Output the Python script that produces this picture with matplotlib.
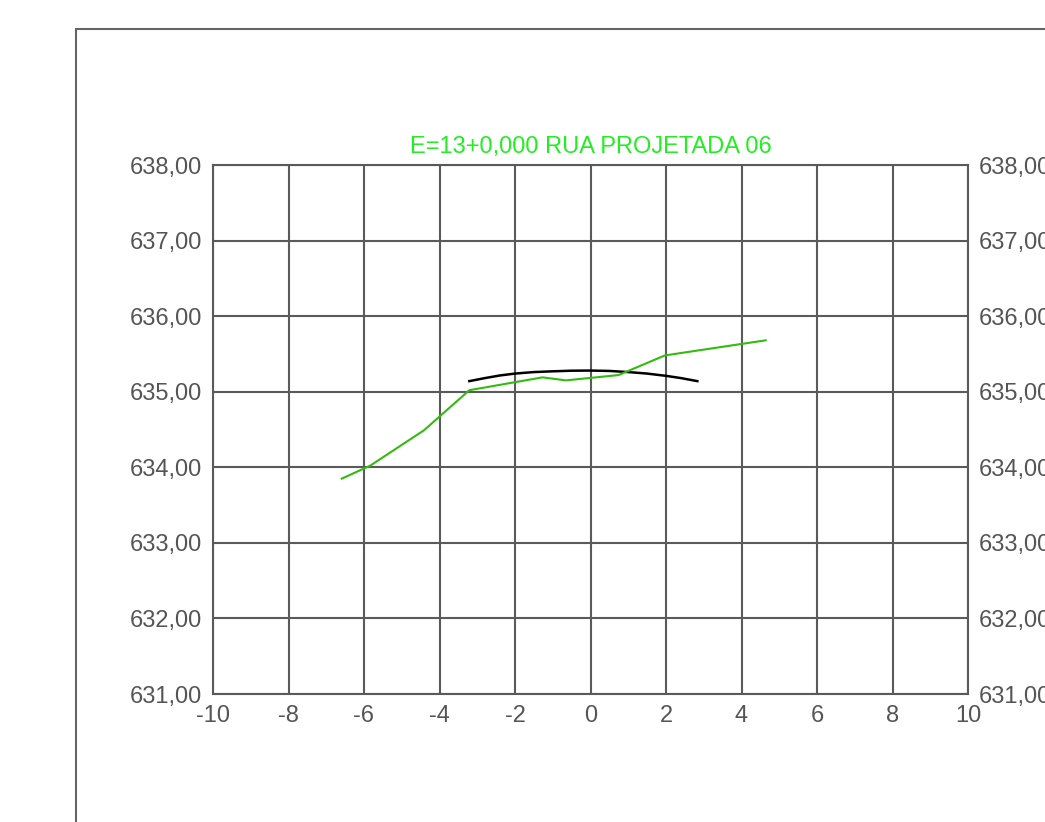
import matplotlib.pyplot as plt
from matplotlib.patches import Rectangle

plt.rcParams['font.family'] = ['Liberation Sans', 'DejaVu Sans']

title = "E=13+0,000 RUA PROJETADA 06"

# terreno (green)
terrain_x = [-6.59, -5.84, -4.41, -3.21, -1.27, -0.65, 0.74, 1.97, 4.64]
terrain_y = [633.85, 634.02, 634.49, 635.02, 635.19, 635.15, 635.22, 635.48, 635.68]

# projeto (black)
road_x = [-3.21, -2.8, -2.4, -2.0, -1.5, -1.0, -0.5, 0.0, 0.5, 1.0, 1.5, 2.0, 2.4, 2.83]
road_y = [635.14, 635.18, 635.215, 635.24, 635.26, 635.27, 635.278, 635.28,
          635.275, 635.26, 635.24, 635.21, 635.18, 635.14]

x_ticks = list(range(-10, 11, 2))
y_ticks = [631, 632, 633, 634, 635, 636, 637, 638]

W, H = 1045, 822
fig = plt.figure(figsize=(W / 100, H / 100), dpi=100)

# outer frame
fig.patches.append(Rectangle((76 / W, -0.1), 1.0, 1 - 29 / H + 0.1,
                             transform=fig.transFigure, fill=False,
                             edgecolor='#666666', linewidth=1.5))

ax = fig.add_axes([213 / W, 1 - 694 / H, (968 - 213) / W, (694 - 165) / H])
grid_col = '#5a5a5a'
for x in x_ticks:
    ax.axvline(x, color=grid_col, lw=1.5, zorder=1)
for y in y_ticks:
    ax.axhline(y, color=grid_col, lw=1.5, zorder=1)

ax.plot(road_x, road_y, color='black', lw=1.8, zorder=3)
ax.plot(terrain_x, terrain_y, color='#33bb11', lw=1.5, zorder=4)

ax.set_xlim(-10, 10)
ax.set_ylim(631, 638)
ax.set_xticks(x_ticks)
ax.set_xticklabels([str(v) for v in x_ticks])
ax.set_yticks(y_ticks)
ax.set_yticklabels([f"{v},00" for v in y_ticks])
ax.tick_params(length=0, labelsize=17, labelcolor='#555555')
ax.tick_params(axis='x', pad=8)
ax.tick_params(axis='y', labelright=True, pad=8)
for s in ax.spines.values():
    s.set_color(grid_col)
    s.set_linewidth(1.5)

ax.set_title(title, color='#22ee22', fontsize=17, pad=9)

fig.savefig('out.png', dpi=100)
